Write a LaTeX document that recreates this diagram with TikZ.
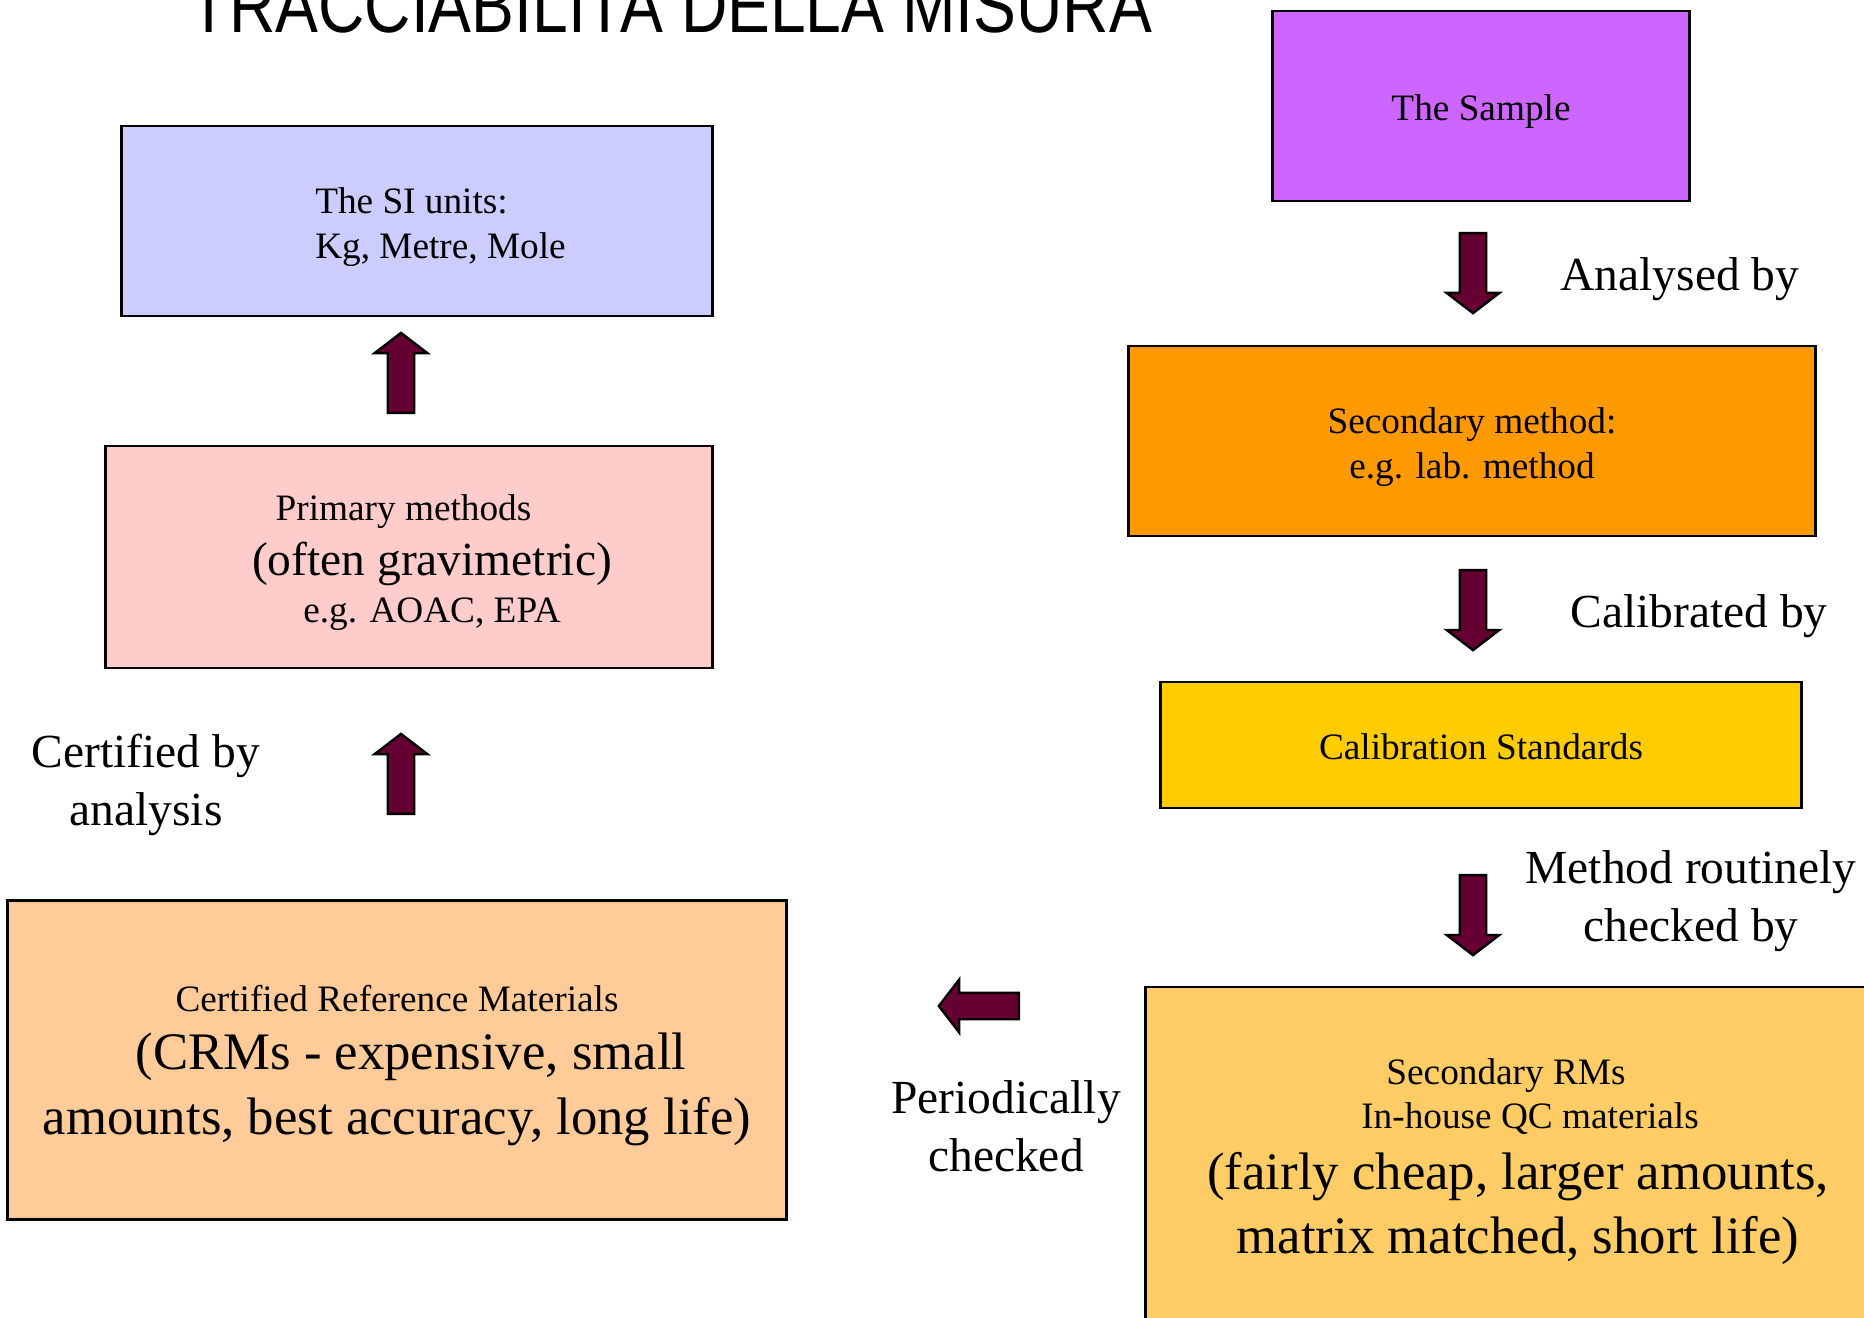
\documentclass[tikz,border=0pt]{standalone}
\usepackage{fontspec}
\setmainfont{Liberation Serif}
\newfontfamily\titlefont[FakeStretch=0.83]{Liberation Sans}
\usepackage{xcolor}
\usepackage{tikz}
\usetikzlibrary{positioning, shapes.arrows}

\definecolor{siunit}{HTML}{CCCCFF}
\definecolor{primeth}{HTML}{FFCCCC}
\definecolor{crmfill}{HTML}{FFCC99}
\definecolor{sample}{HTML}{CC66FF}
\definecolor{secmeth}{HTML}{FF9900}
\definecolor{calstd}{HTML}{FFCC00}
\definecolor{secrm}{HTML}{FFCC66}
\definecolor{blockarr}{HTML}{660033}

\newcommand{\smallsz}{\fontsize{10.6pt}{12.8pt}\selectfont\lineskiplimit=-100pt}
\newcommand{\midsz}{\fontsize{13.5pt}{16.4pt}\selectfont}
\newcommand{\bigsz}{\fontsize{15pt}{18.2pt}\selectfont}
\newcommand{\labsz}{\fontsize{13.5pt}{16.4pt}\selectfont\lineskiplimit=-100pt}
% struts so that the text sits like a slide text box
\newcommand{\tstrut}{\rule{0pt}{1em}}
\newcommand{\bstrut}{\rule[-0.22em]{0pt}{0pt}}

\begin{document}
\begin{tikzpicture}[x=0.01cm, y=-0.01cm,
  mbox/.style={draw, line width=0.8pt, align=center, inner sep=0pt, font=\smallsz},
  lbl/.style={align=center, font=\labsz, inner sep=0pt},
  barrow/.style={single arrow, draw, line width=0.7pt, fill=blockarr,
    inner sep=1.2mm, minimum width=5.0mm, minimum height=8mm,
    single arrow head extend=1.3mm, single arrow tip angle=105}]
  \useasboundingbox (0,0) rectangle (1864,1317);
  \node[font=\titlefont\fontsize{22pt}{26pt}\selectfont, anchor=base, inner sep=0pt]
    (title) at (671,32) {TRACCIABILITA DELLA MISURA};

  % left column
  \node[mbox, fill=siunit, minimum width=5.91cm, minimum height=1.9cm, align=left]
    (si) at (417,221) {\tstrut\hspace*{4.7mm}The SI units:\\\hspace*{4.7mm}Kg, Metre, Mole\bstrut};
  \node[mbox, fill=primeth, minimum width=6.07cm, minimum height=2.22cm] (prim) at (409,557)
    {\tstrut Primary methods\hspace*{1.1mm}\\[2.7pt]\hspace*{4.6mm}{\midsz (often gravimetric)}\\[0.7pt]\hspace*{4.6mm}e.g. AOAC, EPA\bstrut};
  \node[mbox, fill=crmfill, minimum width=7.79cm, minimum height=3.19cm] (crm) at (397,1060)
    {\tstrut Certified Reference Materials\\[3.85pt]\hspace*{2.8mm}{\bigsz (CRMs - expensive, small}\\[5.7pt]{\bigsz amounts, best accuracy, long life)\bstrut}};

  % right column
  \node[mbox, fill=sample, minimum width=4.16cm, minimum height=1.9cm] (samp) at (1481,106) {\tstrut The Sample\bstrut};
  \node[mbox, fill=secmeth, minimum width=6.87cm, minimum height=1.9cm] (secm) at (1472,441)
    {\tstrut Secondary method:\\e.g. lab. method\bstrut};
  \node[mbox, fill=calstd, minimum width=6.4cm, minimum height=1.26cm] (cal) at (1481,745) {\tstrut Calibration Standards\bstrut};
  \node[mbox, fill=secrm, minimum width=7.44cm, minimum height=3.38cm] (srm) at (1518,1156)
    {\tstrut Secondary RMs\hspace*{2.4mm}\\[-0.3pt]\hspace*{2.4mm}In-house QC materials\\[4.4pt]{\bigsz (fairly cheap, larger amounts,}\\[5.4pt]{\bigsz matrix matched, short life)\bstrut}};

  % block arrows
  \foreach \nm/\px/\py/\rot in {upa/401/378/90, upb/401/779/90, dna/1473/268/270,
      dnb/1473/605/270, dnc/1473/910/270, lfa/984/1006/180}
    \node[barrow, shape border rotate=\rot] (\nm) at (\px,\py) {};

  % labels
  \node[lbl] (anl) at (1680,279) {Analysed by};
  \node[lbl] (calb) at (1699,616) {Calibrated by};
  \node[lbl] (chk) at (1691,901) {Method routinely\\checked by};
  \node[lbl] (cert) at (146,785) {Certified by\\analysis};
  \node[lbl] (peri) at (1006,1126) {Periodically\\checked};
\end{tikzpicture}
\end{document}
